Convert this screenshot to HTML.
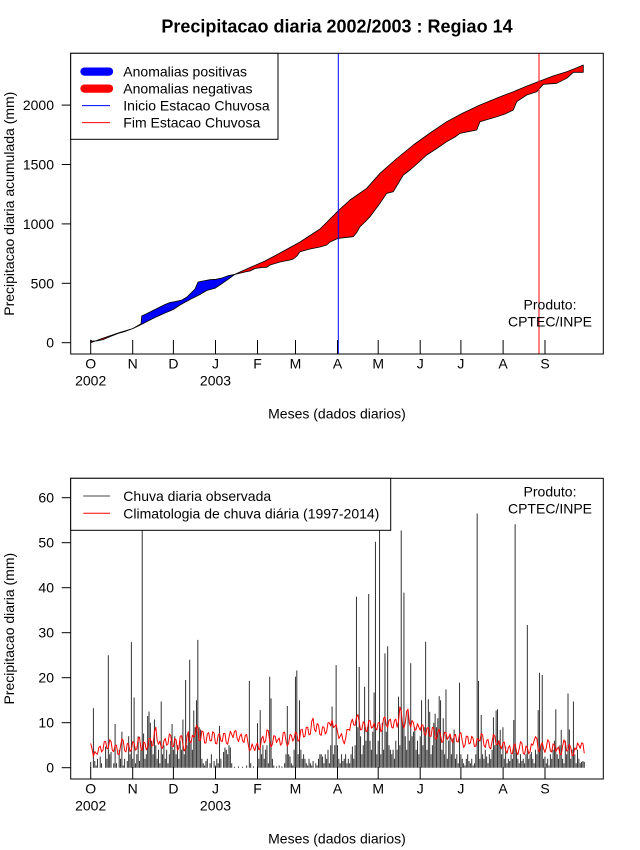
<!DOCTYPE html>
<html>
<head>
<meta charset="utf-8">
<style>
html,body{margin:0;padding:0;background:#fff;}
svg{display:block;}
</style>
</head>
<body>
<svg width="640" height="850" viewBox="0 0 640 850" xmlns="http://www.w3.org/2000/svg" font-family="'Liberation Sans', Arial, sans-serif" font-size="14" fill="#000">
<rect width="640" height="850" fill="#fff"/>
<text x="337" y="32.5" text-anchor="middle" font-weight="bold" font-size="18">Precipitacao diaria 2002/2003 : Regiao 14</text>

<!-- ============ TOP PLOT ============ -->
<g stroke="#000" stroke-width="0.8" stroke-linejoin="round">
<polygon fill="#ff0000" points="90.7,342.7 100,339.3 110,335.8 120,332.4 133,328.5 125,331.5 118,333.5 110,336.6 103,339.6 97,340.8 92,341.2 90.7,340 90.7,342.7"/>
<polygon fill="#0000ff" points="133,328.5 138,325.5 141,323.8 141.7,316 146,314 150,312 155,309.5 160,307 165,304.5 170,302.5 175,301.7 182,300 187,297 191,293 195,289 198,282 203,281 210,279.7 216,279.3 222,278 228,275.8 235,274.3 225,281.5 215,288.3 206.7,290.5 200,294.5 190,299.5 180,305 173.3,309.5 165,313 155,317.5 148,321 140,325.2 133,328.5"/>
<polygon fill="#ff0000" points="235,274.3 250,267.5 265,261 280,253 300,242 320,229 338.3,210.7 350,200 366.7,188.3 380,173.3 395,160 413.3,145 430,133 446.7,121.7 463,113 480,105 497,98 513.3,91.7 527,86 540,81 553,76 566.7,71.7 575,68.5 583.3,65 583.3,72.3 573.3,72.3 566.7,78.3 556.7,83.3 543.3,84.3 536.7,91.7 526.7,95 516.7,101.7 513.3,110 505,114 496.7,116.7 480,121.7 476.7,130 460,133.3 455,137 446.7,141.7 436,149 426.7,155 418,163 410,170 403.3,175 393.3,191.7 386.7,193.3 380,203.3 375,210 370,216.7 365,222 360,226.7 357,232 353.3,236.7 338.3,238.3 330,242 326.7,245 320,247 310,249 300,251.7 297,256 293.3,259 290,260 280,262 270,265 266.7,267.3 262,267.5 255,268.5 250,271 245,272 235,274.3"/>
</g>
<line x1="338.3" y1="53.3" x2="338.3" y2="354" stroke="#0000ff" stroke-width="1"/>
<line x1="539" y1="53.3" x2="539" y2="354" stroke="#ff0000" stroke-width="1"/>

<rect x="70.7" y="53.3" width="532.6" height="300.7" fill="none" stroke="#000" stroke-width="1"/>

<g stroke="#000" stroke-width="1">
<line x1="61.7" y1="342.7" x2="70.7" y2="342.7"/>
<line x1="61.7" y1="283.3" x2="70.7" y2="283.3"/>
<line x1="61.7" y1="223.9" x2="70.7" y2="223.9"/>
<line x1="61.7" y1="164.5" x2="70.7" y2="164.5"/>
<line x1="61.7" y1="105.1" x2="70.7" y2="105.1"/>
</g>
<g text-anchor="end">
<text x="54" y="347.7">0</text>
<text x="54" y="288.3">500</text>
<text x="54" y="228.9">1000</text>
<text x="54" y="169.5">1500</text>
<text x="54" y="110.1">2000</text>
</g>
<g stroke="#000" stroke-width="1">
<line x1="90.7" y1="340" x2="90.7" y2="354"/>
<line x1="132.7" y1="340" x2="132.7" y2="354"/>
<line x1="173.4" y1="340" x2="173.4" y2="354"/>
<line x1="215.5" y1="340" x2="215.5" y2="354"/>
<line x1="257.5" y1="340" x2="257.5" y2="354"/>
<line x1="295.5" y1="340" x2="295.5" y2="354"/>
<line x1="337.5" y1="340" x2="337.5" y2="354"/>
<line x1="378.2" y1="340" x2="378.2" y2="354"/>
<line x1="420.2" y1="340" x2="420.2" y2="354"/>
<line x1="460.9" y1="340" x2="460.9" y2="354"/>
<line x1="503.1" y1="340" x2="503.1" y2="354"/>
<line x1="545" y1="340" x2="545" y2="354"/>
</g>
<g text-anchor="middle">
<text x="90.7" y="368.5">O</text>
<text x="132.7" y="368.5">N</text>
<text x="173.4" y="368.5">D</text>
<text x="215.5" y="368.5">J</text>
<text x="257.5" y="368.5">F</text>
<text x="295.5" y="368.5">M</text>
<text x="337.5" y="368.5">A</text>
<text x="378.2" y="368.5">M</text>
<text x="420.2" y="368.5">J</text>
<text x="460.9" y="368.5">J</text>
<text x="503.1" y="368.5">A</text>
<text x="545" y="368.5">S</text>
<text x="90.7" y="385.5">2002</text>
<text x="215.5" y="385.5">2003</text>
<text x="337" y="418.5">Meses (dados diarios)</text>
<text x="550" y="309.5">Produto:</text>
<text x="550" y="326.7">CPTEC/INPE</text>
</g>
<text transform="translate(14,203.7) rotate(-90)" text-anchor="middle">Precipitacao diaria acumulada (mm)</text>

<rect x="70.7" y="53.3" width="207.3" height="86" fill="#fff" stroke="#000" stroke-width="1"/>
<line x1="84.5" y1="71.6" x2="109" y2="71.6" stroke="#0000ff" stroke-width="8.3" stroke-linecap="round"/>
<line x1="84.5" y1="88.6" x2="109" y2="88.6" stroke="#ff0000" stroke-width="8.3" stroke-linecap="round"/>
<line x1="82" y1="105.6" x2="110" y2="105.6" stroke="#0000ff" stroke-width="1"/>
<line x1="82" y1="122.6" x2="110" y2="122.6" stroke="#ff0000" stroke-width="1"/>
<text x="123.3" y="76.6">Anomalias positivas</text>
<text x="123.3" y="93.6">Anomalias negativas</text>
<text x="123.3" y="110.6">Inicio Estacao Chuvosa</text>
<text x="123.3" y="127.6">Fim Estacao Chuvosa</text>

<!-- ============ BOTTOM PLOT ============ -->
<g transform="translate(90.7,767.7) scale(1.356,-4.5)">
<path fill="none" stroke="#333" stroke-width="1" vector-effect="non-scaling-stroke" d="M0 0V1.3M2 0V13.2M3 0V1.5M4 0V.5M5 0V2M7 0V2.5M8 0V1M11 0V4.7M12 0V2M13 0V25M14 0V3M15 0V3.5M17 0V1M18 0V9.7M19 0V1M21 0V4M22 0V2M23 0V8M24 0V.5M25 0V2M27 0V1.5M28 0V7M29 0V3M30 0V27.9M31 0V2M32 0V15.6M33 0V1M34 0V3M35 0V7M36 0V1.5M37 0V4M38 0V58M39 0V7.6M40 0V2M41 0V3M42 0V11.5M43 0V12.5M44 0V10M45 0V6M46 0V3M47 0V10.7M48 0V5M49 0V2M50 0V4M51 0V1M52 0V14.7M53 0V3M54 0V5M55 0V2M56 0V4M57 0V1M58 0V3M59 0V6M60 0V9.7M61 0V4M62 0V7M63 0V3M64 0V5M65 0V2M66 0V6M67 0V4M68 0V10.7M69 0V3M70 0V19.5M71 0V5M72 0V8M73 0V24M74 0V6M75 0V4M76 0V12.7M77 0V9M78 0V15M79 0V28.4M80 0V9M81 0V8.5M82 0V2M83 0V1M84 0V.5M85 0V1.5M86 0V2M88 0V1M89 0V3M91 0V1.5M92 0V.5M93 0V2M94 0V1M95 0V9.3M96 0V2M98 0V3.5M99 0V4.5M100 0V4M101 0V3M102 0V5M103 0V4.5M104 0V1M106 0V.2M109 0V.3M112 0V.2M115 0V.5M117 0V19.3M118 0V1M120 0V.3M123 0V9.9M124 0V2M125 0V12.8M126 0V3M127 0V5M128 0V2M129 0V4M130 0V5M131 0V1M132 0V20.2M133 0V15.4M134 0V2M135 0V.5M137 0V.3M139 0V.5M141 0V.3M143 0V1M144 0V3M145 0V13.7M146 0V3M147 0V2.5M148 0V1M149 0V.5M150 0V4M151 0V20.2M152 0V21.6M153 0V3M154 0V15M155 0V4M156 0V2M157 0V3M158 0V2M159 0V1M160 0V.5M161 0V2M162 0V1M163 0V.5M164 0V1.5M166 0V1M167 0V.5M168 0V2M169 0V3M170 0V3M171 0V2.5M172 0V1M173 0V3M174 0V2M175 0V4M176 0V1M177 0V5M178 0V13.6M179 0V3M180 0V5M181 0V22.8M182 0V5M183 0V2M184 0V1M185 0V3M186 0V1.5M187 0V2M188 0V3M189 0V1M190 0V2M191 0V1M192 0V3M193 0V4.7M194 0V2M195 0V5M196 0V38M197 0V9M198 0V22.4M199 0V7M200 0V3M201 0V5M202 0V18M203 0V6M204 0V9M205 0V38.6M206 0V6M207 0V4M208 0V8M209 0V16.7M210 0V50.2M211 0V3M212 0V6M213 0V58M214 0V3M215 0V10M216 0V4M217 0V25.4M218 0V8M219 0V27M220 0V5M221 0V4M222 0V3M223 0V4M224 0V2M225 0V6M226 0V4M227 0V15.8M228 0V5M229 0V52.7M230 0V10M231 0V38.9M232 0V7M233 0V4M234 0V12.8M235 0V6M236 0V23.2M237 0V7M238 0V8M239 0V9M240 0V4M241 0V6M242 0V3M243 0V7M244 0V15M245 0V5M246 0V9M247 0V28M248 0V4M249 0V15.2M250 0V12.4M251 0V3M252 0V5M253 0V10M254 0V12M255 0V9M256 0V11M257 0V15.9M258 0V15M259 0V4M260 0V11M261 0V3M262 0V17.4M263 0V2M264 0V6M265 0V7M266 0V3M267 0V6.5M268 0V8.5M269 0V2M270 0V3M271 0V1M272 0V18.9M273 0V3M274 0V2M275 0V1M276 0V.5M277 0V2M278 0V3M279 0V1.5M280 0V1M281 0V2M282 0V.5M283 0V1M284 0V3M285 0V56.5M286 0V19.3M287 0V2M288 0V11.7M289 0V3M290 0V2M291 0V4M292 0V2.5M293 0V1M294 0V3M295 0V2M296 0V4M297 0V11.2M298 0V5M299 0V12.7M300 0V13M301 0V6M302 0V8.4M303 0V3M304 0V9M305 0V2M306 0V4.7M307 0V1M308 0V2M309 0V1.5M310 0V3M311 0V2M312 0V10.6M313 0V54.1M314 0V4M315 0V2M316 0V1M317 0V3M318 0V1.5M319 0V2M320 0V1M321 0V3M322 0V31.7M323 0V2M324 0V3M325 0V3.5M326 0V2M327 0V1M328 0V4M329 0V3M330 0V12.8M331 0V21.1M332 0V5M333 0V20.6M334 0V2M335 0V2.5M336 0V1M337 0V2M338 0V.5M339 0V3M340 0V2M341 0V4M342 0V6M343 0V13M344 0V3M345 0V2M346 0V5M347 0V8.4M348 0V2M349 0V1M350 0V6M351 0V3M352 0V16.5M353 0V8.5M354 0V2M355 0V4M356 0V14.7M357 0V3M358 0V1M359 0V4M360 0V2M361 0V1M362 0V1.3M363 0V1.5M364 0V1.3"/>
<polyline fill="none" stroke="#ff0000" stroke-width="1" vector-effect="non-scaling-stroke" stroke-linejoin="round" points="0,5.4 1,4.2 2,2.5 3,3.6 4,3.2 5,3.0 6,4.5 7,4.8 8,3.5 9,3.9 10,5.8 11,5.8 12,4.2 13,4.4 14,6.2 15,5.8 16,3.8 17,3.6 18,5 19,5.0 20,3 21,2.9 22,4.8 23,6.4 24,6 25,3.8 26,3.5 27,5.4 28,5.2 29,3.6 30,4 31,5.8 32,5.5 33,3.9 34,4.2 35,6.5 36,6.8 37,4.3 38,3.8 39,5.7 40,5.5 41,4.0 42,4.5 43,6.5 44,6.5 45,4.8 46,5 47,8.0 48,9 49,6.1 50,5.2 51,5.9 52,4.5 53,4.3 54,6 55,6.5 56,5 57,5.3 58,7.5 59,7.2 60,4.8 61,4.7 62,6.5 63,6.2 64,3.8 65,4.4 66,7 67,7.1 68,5.2 69,3.7 70,4.2 71,7.1 72,8 73,5.8 74,5.5 75,7.2 76,6.8 77,7.2 78,9.5 79,8.8 80,6 81,6.1 82,8.2 83,7.9 84,5.5 85,5.5 86,7.5 87,7.8 88,6 89,6.0 90,8 91,7.7 92,5.4 93,5.3 94,7.2 95,7.6 96,6 97,5.8 98,7.6 99,7.6 100,5.5 101,5.2 102,6.8 103,8.1 104,7.4 105,6.7 106,8 107,8.3 108,6.5 109,5.8 110,7 111,7.5 112,6 113,5.6 114,7.2 115,7.4 116,5.5 117,3.8 118,4 119,5.3 120,4.5 121,3.8 122,5 123,5.5 124,4 125,4.3 126,6.5 127,7.0 128,5.5 129,6.0 130,8.4 131,8.2 132,6 133,4.6 134,5.2 135,7.1 136,7 137,5.6 138,6.2 139,6.6 140,5 141,5.4 142,7.8 143,7.9 144,6 145,4.8 146,5.5 147,7.4 148,7.2 149,5.9 150,6.5 151,8.0 152,7.5 153,5.9 154,6.2 155,8.4 156,8.5 157,6.8 158,7 159,9.0 160,9 161,7.3 162,7.5 163,10.3 164,11 165,8.5 166,8 167,9.8 168,9.5 169,7.4 170,7.2 171,9.1 172,9 173,7.5 174,8 175,10.0 176,10 177,9.3 178,10.6 179,8.9 180,9.2 181,9.6 182,8 183,6.5 184,7 185,7.6 186,6.1 187,5.3 188,6.5 189,8.5 190,8.5 191,8.3 192,10 193,10.8 194,9.5 195,9.4 196,11.3 197,11.8 198,10.2 199,8.4 200,8.5 201,10.2 202,9.8 203,8.0 204,8.2 205,10.4 206,10.5 207,8.8 208,9 209,9.9 210,8.8 211,8.4 212,10 213,10.0 214,8 215,8.5 216,11 217,11.3 218,9.5 219,9.0 220,10.5 221,10.8 222,9 223,8.8 224,10.5 225,10.8 226,9 227,10.3 228,13.5 229,12.5 230,9.5 231,8.8 232,10 233,12.5 234,13 235,10.0 236,9 237,10.5 238,10 239,8.3 240,8.5 241,9.8 242,9 243,8.3 244,9.5 245,9.5 246,7.5 247,7.2 248,8.8 249,8.9 250,7 251,7.0 252,9 253,8.8 254,6.5 255,6.3 256,8 257,8.6 258,7.2 259,5.6 260,6 261,7.9 262,7.8 263,6.3 264,6.8 265,7.5 266,6.2 267,5.6 268,7 269,7.4 270,5.8 271,5.7 272,7.5 273,7.8 274,6 275,4.5 276,5 277,7.0 278,7 279,5.3 280,5.5 281,7.0 282,6.5 283,4.7 284,4.8 285,6.5 286,6.2 287,5.9 288,7.6 289,7.3 290,5 291,4.5 292,6 293,6.3 294,4.5 295,4.2 296,5.8 297,7.4 298,7 299,5.1 300,5.2 301,6.0 302,4.8 303,4.2 304,5.5 305,5.7 306,3.8 307,3.2 308,4.5 309,4.9 310,3.2 311,3.1 312,5 313,5.3 314,3.5 315,2.9 316,4.2 317,5.8 318,5.4 319,3.2 320,3 321,4.8 322,4.5 323,3.1 324,3.6 325,5.3 326,5 327,6.0 328,6.9 329,6.5 330,4 331,3.5 332,5 333,5.6 334,4.2 335,3.4 336,4.5 337,6.2 338,5.8 339,3.7 340,3.5 341,5.3 342,5 343,3.6 344,4.2 345,4.6 346,3 347,2.9 348,4.8 349,6.2 350,5.5 351,3.7 352,3.8 353,5.2 354,4.5 355,2.7 356,2.8 357,4.4 358,4 359,5.5 360,5 361,4.3 362,5.5 363,5.4 364,3.2"/>
</g>

<rect x="70.7" y="478.3" width="532.6" height="300.7" fill="none" stroke="#000" stroke-width="1"/>

<g stroke="#000" stroke-width="1">
<line x1="61.7" y1="767.7" x2="70.7" y2="767.7"/>
<line x1="61.7" y1="722.7" x2="70.7" y2="722.7"/>
<line x1="61.7" y1="677.7" x2="70.7" y2="677.7"/>
<line x1="61.7" y1="632.7" x2="70.7" y2="632.7"/>
<line x1="61.7" y1="587.7" x2="70.7" y2="587.7"/>
<line x1="61.7" y1="542.7" x2="70.7" y2="542.7"/>
<line x1="61.7" y1="497.7" x2="70.7" y2="497.7"/>
</g>
<g text-anchor="end">
<text x="54" y="772.7">0</text>
<text x="54" y="727.7">10</text>
<text x="54" y="682.7">20</text>
<text x="54" y="637.7">30</text>
<text x="54" y="592.7">40</text>
<text x="54" y="547.7">50</text>
<text x="54" y="502.7">60</text>
</g>
<g stroke="#000" stroke-width="1">
<line x1="90.7" y1="767" x2="90.7" y2="779"/>
<line x1="132.7" y1="767" x2="132.7" y2="779"/>
<line x1="173.4" y1="767" x2="173.4" y2="779"/>
<line x1="215.5" y1="767" x2="215.5" y2="779"/>
<line x1="257.5" y1="767" x2="257.5" y2="779"/>
<line x1="295.5" y1="767" x2="295.5" y2="779"/>
<line x1="337.5" y1="767" x2="337.5" y2="779"/>
<line x1="378.2" y1="767" x2="378.2" y2="779"/>
<line x1="420.2" y1="767" x2="420.2" y2="779"/>
<line x1="460.9" y1="767" x2="460.9" y2="779"/>
<line x1="503.1" y1="767" x2="503.1" y2="779"/>
<line x1="545" y1="767" x2="545" y2="779"/>
</g>
<g text-anchor="middle">
<text x="90.7" y="793.5">O</text>
<text x="132.7" y="793.5">N</text>
<text x="173.4" y="793.5">D</text>
<text x="215.5" y="793.5">J</text>
<text x="257.5" y="793.5">F</text>
<text x="295.5" y="793.5">M</text>
<text x="337.5" y="793.5">A</text>
<text x="378.2" y="793.5">M</text>
<text x="420.2" y="793.5">J</text>
<text x="460.9" y="793.5">J</text>
<text x="503.1" y="793.5">A</text>
<text x="545" y="793.5">S</text>
<text x="90.7" y="810.5">2002</text>
<text x="215.5" y="810.5">2003</text>
<text x="337" y="843.5">Meses (dados diarios)</text>
<text x="550" y="496.3">Produto:</text>
<text x="550" y="513.5">CPTEC/INPE</text>
</g>
<text transform="translate(14,628.7) rotate(-90)" text-anchor="middle">Precipitacao diaria (mm)</text>

<rect x="70.7" y="478.3" width="320" height="52" fill="#fff" stroke="#000" stroke-width="1"/>
<line x1="83.3" y1="496" x2="110" y2="496" stroke="#444" stroke-width="1"/>
<line x1="83.3" y1="513.3" x2="110" y2="513.3" stroke="#ff0000" stroke-width="1"/>
<text x="123.3" y="501">Chuva diaria observada</text>
<text x="123.3" y="518.3">Climatologia de chuva diária (1997-2014)</text>
</svg>
</body>
</html>
